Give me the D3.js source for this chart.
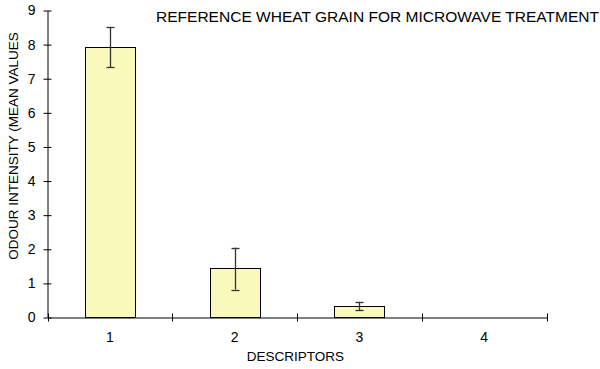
<!DOCTYPE html>
<html>
<head>
<meta charset="utf-8">
<script src="https://cdn.jsdelivr.net/npm/d3@7"></script>
<style>
html,body{margin:0;padding:0;background:#fff;}
svg{display:block;}
text{font-family:Arial,"Liberation Sans",sans-serif;fill:#000;}
</style>
</head>
<body>
<svg id="chart" width="600" height="369"></svg>
<script>
const categories = ["1", "2", "3", "4"];
const means = [7.94, 1.44, 0.34, 0];
const errHigh = [8.52, 2.05, 0.46, null];
const errLow = [7.33, 0.82, 0.21, null];
const yTicks = [0, 1, 2, 3, 4, 5, 6, 7, 8, 9];

(function () {
const svg = d3.select("#chart");
const pLeft = 47.5, pRight = 546.5, pTop = 10.5, pBottom = 317.5;

const x = d3.scaleBand().domain(categories).range([pLeft, pRight]).paddingInner(0).paddingOuter(0);
const y = d3.scaleLinear().domain([0, 9]).range([pBottom, pTop]);
const barW = 50;

// pattern fill (dithered light yellow)
const defs = svg.append("defs");
const pat = defs.append("pattern").attr("id", "dither").attr("width", 2).attr("height", 2).attr("patternUnits", "userSpaceOnUse");
pat.append("rect").attr("width", 2).attr("height", 2).attr("fill", "#ffffc0");
pat.append("rect").attr("width", 1).attr("height", 1).attr("fill", "#f4f4b8");
pat.append("rect").attr("x", 1).attr("y", 1).attr("width", 1).attr("height", 1).attr("fill", "#f4f4b8");

// bars
svg.append("g").selectAll("rect").data(categories.map((c, i) => ({c, v: means[i]})).filter(d => d.v > 0))
  .join("rect")
  .attr("x", d => Math.round(x(d.c) + x.bandwidth() / 2 - barW / 2) + 0.5)
  .attr("y", d => Math.round(y(d.v)) + 0.5)
  .attr("width", barW)
  .attr("height", d => pBottom - (Math.round(y(d.v)) + 0.5))
  .attr("fill", "url(#dither)")
  .attr("stroke", "#000")
  .attr("stroke-width", 1);

// error bars
const eg = svg.append("g").attr("stroke", "#333").attr("stroke-width", 1.3);
categories.forEach((c, i) => {
  if (errHigh[i] == null) return;
  const cx = Math.round(x(c) + x.bandwidth() / 2) + 0.5;
  eg.append("line").attr("x1", cx).attr("x2", cx).attr("y1", y(errHigh[i])).attr("y2", y(errLow[i]));
  [errHigh[i], errLow[i]].forEach(v => {
    eg.append("line").attr("x1", cx - 4).attr("x2", cx + 4).attr("y1", Math.round(y(v)) + 0.5).attr("y2", Math.round(y(v)) + 0.5);
  });
});

// y axis
const yAxis = d3.axisLeft(y).tickValues(yTicks).tickSize(0).tickPadding(12).tickFormat(d3.format("d"));
const ga = svg.append("g").attr("transform", `translate(${pLeft},0)`).call(yAxis);
ga.select(".domain").attr("stroke", "#000");
ga.selectAll(".tick text").attr("font-size", 14).attr("font-family", "Arial,'Liberation Sans',sans-serif").attr("fill", "#000");
ga.selectAll(".tick").append("line").attr("x1", -4).attr("x2", 4).attr("stroke", "#000");

// x axis
const xAxis = d3.axisBottom(x).tickSize(0).tickPadding(15);
const gx = svg.append("g").attr("transform", `translate(0,${pBottom})`).call(xAxis);
gx.select(".domain").attr("stroke", "#000");
gx.selectAll(".tick text").attr("font-size", 14).attr("font-family", "Arial,'Liberation Sans',sans-serif").attr("fill", "#000");
const bounds = categories.map(c => x(c)).concat([x(categories[categories.length - 1]) + x.bandwidth()]);
gx.selectAll(".bt").data(bounds).join("line")
  .attr("x1", d => Math.round(d) + 0.5).attr("x2", d => Math.round(d) + 0.5)
  .attr("y1", -4).attr("y2", 4).attr("stroke", "#000");

// labels
svg.append("text").attr("x", 156).attr("y", 22).attr("font-size", 14.5)
  .attr("textLength", 443).attr("lengthAdjust", "spacingAndGlyphs")
  .text("REFERENCE WHEAT GRAIN FOR MICROWAVE TREATMENT");
svg.append("text").attr("x", 295.5).attr("y", 361).attr("text-anchor", "middle").attr("font-size", 13.5).text("DESCRIPTORS");
svg.append("text").attr("transform", "translate(18,146) rotate(-90)").attr("text-anchor", "middle").attr("font-size", 13.5).text("ODOUR INTENSITY (MEAN VALUES");
})();
</script>
</body>
</html>
